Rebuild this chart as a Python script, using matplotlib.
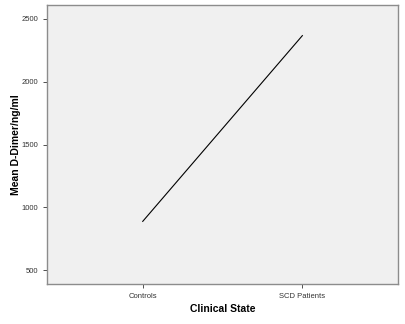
import numpy as np
import matplotlib
matplotlib.use("Agg")
from matplotlib import pyplot as plt

states = ["Controls", "SCD Patients"]
mean_ddimer = [888, 2367]

plt.rcParams["font.family"] = ["Liberation Sans", "DejaVu Sans"]

fig = plt.figure(figsize=(4.05, 3.24), dpi=100)
ax = fig.add_axes([0.116, 0.123, 0.867, 0.862])
ax.set_facecolor("#f0f0f0")

x = np.arange(len(states))
ax.plot(x, mean_ddimer, color="black", linewidth=0.8)

ax.set_xlim(-0.6, 1.6)
ax.set_ylim(388, 2612)
ax.set_xticks(x)
ax.set_xticklabels(states)
ax.set_yticks([500, 1000, 1500, 2000, 2500])

for s in ax.spines.values():
    s.set_color("#8c8c8c")
    s.set_linewidth(1.0)

ax.tick_params(axis="both", labelsize=5.5, colors="#333333", length=3, width=0.6)
ax.set_xlabel("Clinical State", fontsize=7.5, fontweight="bold")
ax.set_ylabel("Mean D-Dimer/ng/ml", fontsize=7.5, fontweight="bold")
ax.xaxis.set_label_coords(0.5, -0.072)
ax.yaxis.set_label_coords(-0.073, 0.5)

fig.savefig("out.png", dpi=100)
